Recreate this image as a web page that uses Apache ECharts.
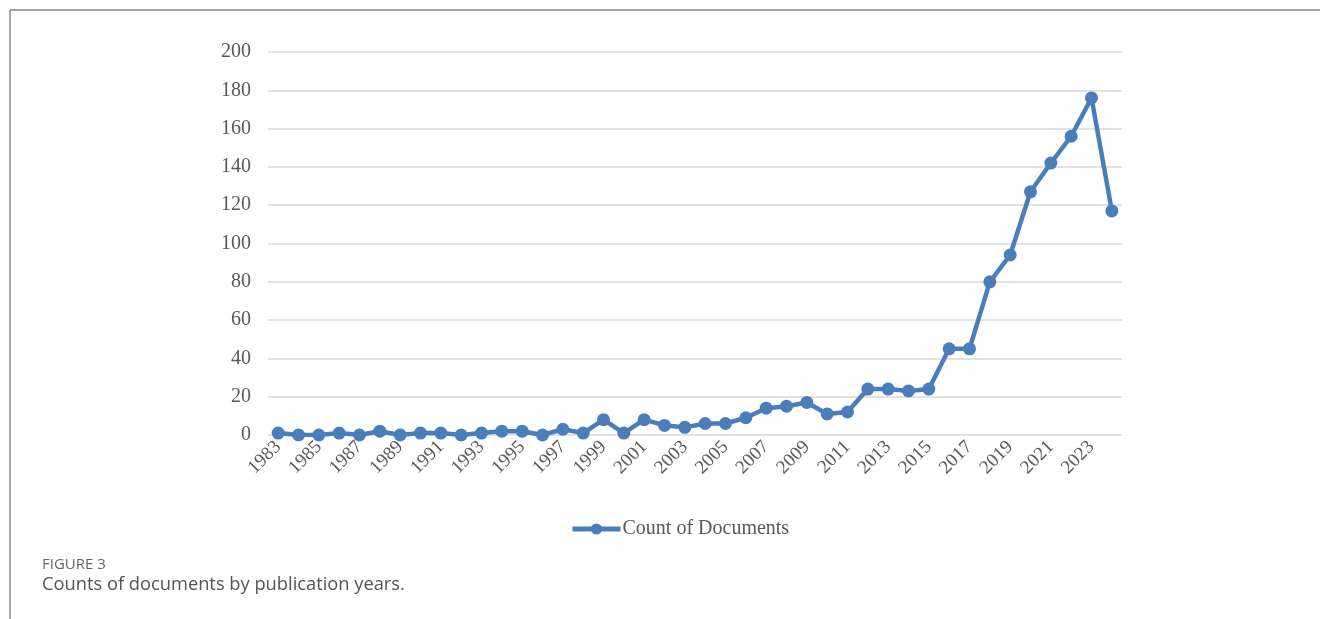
<!DOCTYPE html>
<html>
<head>
<meta charset="utf-8">
<script src="https://cdn.jsdelivr.net/npm/echarts@6/dist/echarts.min.js"></script>
<style>
  html, body { margin: 0; padding: 0; background: #fff; }
  #chart { width: 1320px; height: 619px; }
</style>
</head>
<body>
<div id="chart"></div>
<script>
// publication years
var years = [
  '1983','1984','1985','1986','1987','1988','1989','1990','1991','1992',
  '1993','1994','1995','1996','1997','1998','1999','2000','2001','2002',
  '2003','2004','2005','2006','2007','2008','2009','2010','2011','2012',
  '2013','2014','2015','2016','2017','2018','2019','2020','2021','2022',
  '2023','2024'
];
// count of documents per year
var docCounts = [
  1, 0, 0, 1, 0, 2, 0, 1, 1, 0,
  1, 2, 2, 0, 3, 1, 8, 1, 8, 5,
  4, 6, 6, 9, 14, 15, 17, 11, 12, 24,
  24, 23, 24, 45, 45, 80, 94, 127, 142, 156,
  176, 117
];
var seriesName = 'Count of Documents';
var figureLabel = 'FIGURE 3';
var figureCaption = 'Counts of documents by publication years.';

var chart = echarts.init(document.getElementById('chart'));
var option = {
  backgroundColor: '#fff',
  animation: false,
  grid: { left: 268, right: 198, top: 52, bottom: 184 },
  legend: {
    data: [seriesName],
    left: 565,
    top: 514,
    itemWidth: 48,
    itemHeight: 14,
    itemGap: 2,
    lineStyle: { width: 5 },
    textStyle: { fontFamily: 'Liberation Serif', fontSize: 20, color: '#595959', padding: [0, 0, 0, -3] }
  },
  xAxis: {
    type: 'category',
    data: years,
    boundaryGap: true,
    axisLine: { show: false },
    axisTick: { show: false },
    axisLabel: {
      interval: 1,
      rotate: 45,
      margin: 9,
      fontFamily: 'Liberation Serif',
      fontSize: 19,
      color: '#595959'
    }
  },
  yAxis: {
    type: 'value',
    min: 0,
    max: 200,
    interval: 20,
    axisLine: { show: false },
    axisTick: { show: false },
    splitLine: { lineStyle: { color: '#d9d9d9', width: 1.5 } },
    axisLabel: {
      margin: 17,
      fontFamily: 'Liberation Serif',
      fontSize: 20,
      color: '#595959'
    }
  },
  series: [{
    name: seriesName,
    type: 'line',
    data: docCounts,
    symbol: 'circle',
    symbolSize: 13,
    itemStyle: { color: '#4a7ebb' },
    lineStyle: { color: '#4a7ebb', width: 4.5 }
  }],
  graphic: [
    { type: 'line', shape: { x1: 10, y1: 10, x2: 1320, y2: 10 }, style: { stroke: '#8a8a8a', lineWidth: 1.5 } },
    { type: 'line', shape: { x1: 10, y1: 10, x2: 10, y2: 619 }, style: { stroke: '#8a8a8a', lineWidth: 1.5 } },
    { type: 'text', left: 42, top: 557, style: { text: figureLabel, font: '15px "Open Sans"', fill: '#666' } },
    { type: 'text', left: 42, top: 576, style: { text: figureCaption, font: '18.3px "Open Sans"', fill: '#555' } }
  ]
};
chart.setOption(option);
</script>
</body>
</html>
